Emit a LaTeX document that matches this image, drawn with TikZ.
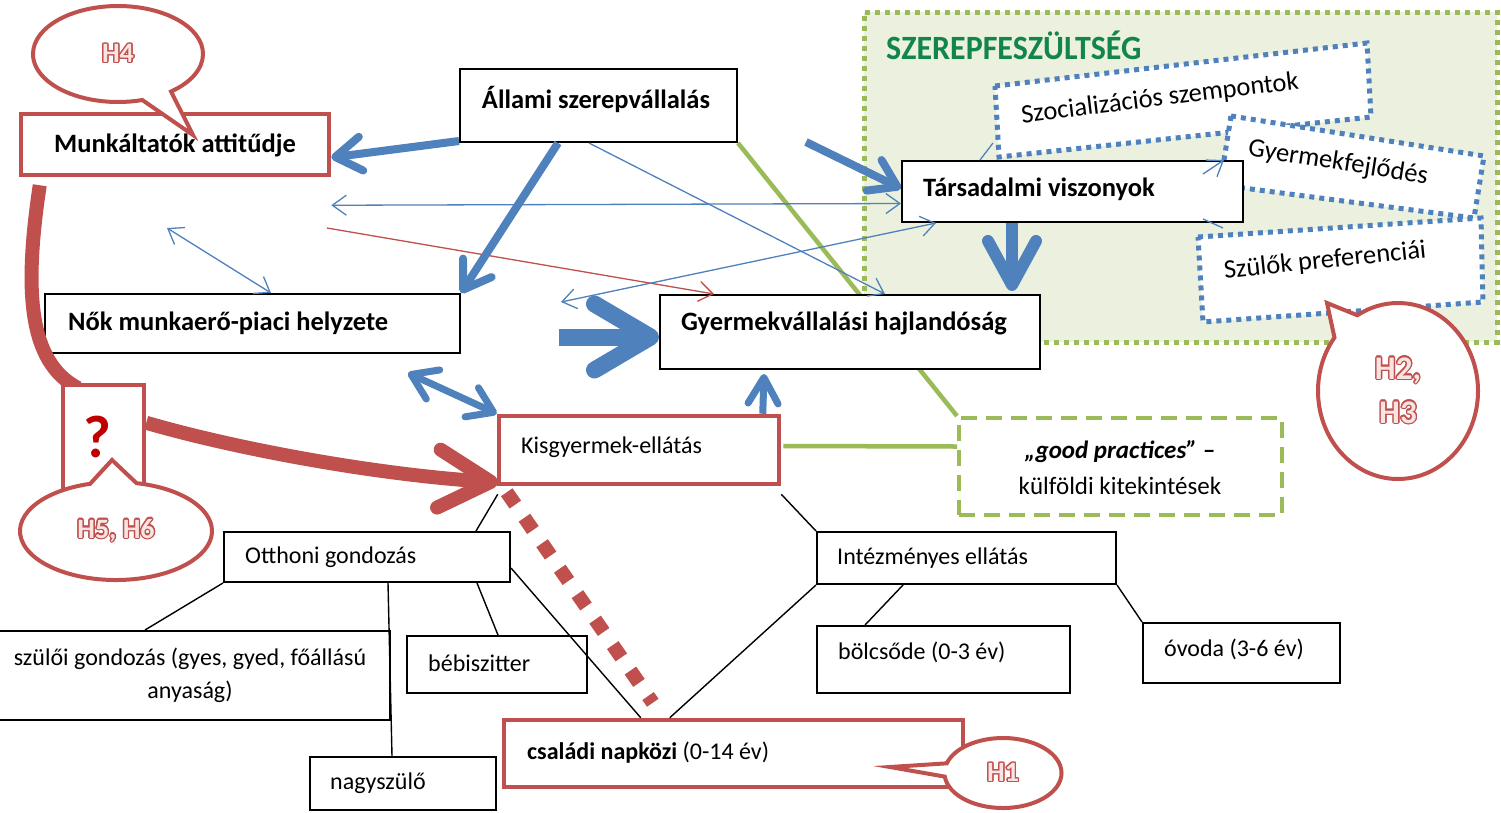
\documentclass[tikz,border=0pt]{standalone}
\usepackage{fontspec}
\setmainfont{Carlito}
\usepackage[copies]{contour}
\usetikzlibrary{arrows.meta,shapes.geometric,shapes.callouts,fit}
\definecolor{ablue}{HTML}{4F81BD}
\definecolor{ared}{HTML}{C0504D}
\definecolor{agreen}{HTML}{9BBB59}
\definecolor{afill}{HTML}{EBF1DE}
\definecolor{qred}{HTML}{C00000}
\definecolor{tgreen}{HTML}{12854A}
\definecolor{hpink}{HTML}{F7E4E3}
\contourlength{1.3pt}
\newcommand\hlab[1]{\contour{ared}{\textcolor{hpink}{#1}}}
\tikzset{
  bx/.style={draw=black, line width=2pt, fill=white, inner sep=0pt},
  rbx/.style={draw=ared, line width=4.5pt, fill=white, inner sep=0pt},
  tx/.style={font=\fontsize{24}{33}\selectfont, inner sep=0pt},
  btx/.style={font=\fontsize{26.5}{30}\selectfont\bfseries, inner sep=0pt},
  rtx/.style={font=\fontsize{26.5}{30}\selectfont, inner sep=0pt},
  bubble/.style={ellipse callout, draw=ared, line width=4pt, fill=white, inner sep=0pt,
     font=\fontsize{28}{40}\selectfont\bfseries, align=center},
  dotbox/.style={draw=ablue, line width=5pt, dash pattern=on 5pt off 5pt, fill=white},
  tree/.style={draw=black, line width=1.4pt},
  gline/.style={draw=agreen, line width=4.5pt},
  thinarr/.style={draw=ablue, line width=1.3pt, -{Straight Barb[length=14pt,width=20pt]}},
  thinred/.style={draw=ared, line width=1.3pt, -{Straight Barb[length=14pt,width=20pt]}},
  thinbi/.style={draw=ablue, line width=1.3pt, {Straight Barb[length=14pt,width=20pt]}-{Straight Barb[length=14pt,width=20pt]}},
  fat/.style={draw=ablue, line width=8pt, -{Straight Barb[length=26pt,width=34pt,round]}},
  fatbi/.style={draw=ablue, line width=7pt, {Straight Barb[length=24pt,width=32pt,round]}-{Straight Barb[length=24pt,width=32pt,round]}},
}
\begin{document}
\begin{tikzpicture}[x=1pt,y=-1pt]
\useasboundingbox (0,0) rectangle (1501,812);
\fill[white] (0,0) rectangle (1501,812);

% role strain region
\node[draw=agreen, fill=afill, line width=5pt, dash pattern=on 5pt off 5pt, inner sep=0pt,
      fit={(864,12) (1497,342)}] (szerep) {};
\node[font=\fontsize{34}{40}\selectfont\bfseries, text=tgreen, xscale=0.94, anchor=west, inner sep=0pt]
      (title) at (886,45) {SZEREPFESZÜLTSÉG};

% dotted blue boxes
\draw[dotbox] (995,86) -- (1367,43) -- (1371,117) -- (999,157) -- cycle;
\node[rtx, rotate=7] (szoct) at (1160,99) {Szocializációs szempontok};
\draw[dotbox] (1231,116) -- (1484,156) -- (1474,218) -- (1220,185) -- cycle;
\node[rtx, rotate=-9] (gyft) at (1338,163) {Gyermekfejlődés};
\draw[dotbox] (1198,237) -- (1481,218) -- (1483,302) -- (1203,322) -- cycle;
\node[rtx, rotate=6] (szpt) at (1325,261) {Szülők preferenciái};

% boxes
\node[rbx, fit={(21,114) (329,175)}] (munk) {};
\node[bx, fit={(460,69) (737,142)}] (allami) {};
\node[draw=agreen, line width=4pt, dash pattern=on 16pt off 9pt, fill=white, inner sep=0pt,
      fit={(959,418) (1282,515)}] (good) {};
% green connectors (behind the boxes they cross)
\draw[gline] (allami.south east) -- (good.north west);
\node[bx, fit={(45,294) (460,353)}] (nok) {};
\node[bx, fit={(660,295) (1040,369)}] (gyerm) {};
\node[bx, fit={(902,161) (1243,222)}] (tars) {};
\node[rbx, fit={(499,416) (779,484)}] (kisgy) {};
\draw[gline] ([shift={(2,-4)}]kisgy.east) -- ([shift={(0,-20)}]good.west);
\node[bx, fit={(224,532) (510,582)}] (otth) {};
\node[bx, fit={(-3,631) (390,720)}] (szuloi) {};
\node[bx, fit={(407,636) (587,693)}] (bebi) {};
\node[bx, fit={(310,757) (496,810)}] (nagy) {};
\node[rbx, fit={(504,720) (963,787)}] (csal) {};
\node[bx, fit={(817,532) (1116,584)}] (intez) {};
\node[bx, fit={(817,626) (1070,693)}] (bolcs) {};
\node[bx, fit={(1143,623) (1340,683)}] (ovoda) {};

% texts
\node[btx] (munkt) at (175,145) {Munkáltatók attitűdje};
\node[btx] (allamit) at (596,99) {Állami szerepvállalás};
\node[btx, anchor=west] (nokt) at (68,323) {Nők munkaerő-piaci helyzete};
\node[btx, anchor=west] (gyermt) at (681,323) {Gyermekvállalási hajlandóság};
\node[btx, anchor=west] (tarst) at (923,189) {Társadalmi viszonyok};
\node[tx, anchor=west] (kisgyt) at (521,447) {Kisgyermek-ellátás};
\node[tx, align=center, font=\fontsize{25}{36}\selectfont] (goodt) at (1120,468) {\textbf{\textit{„good practices” –}}\\külföldi kitekintések};
\node[tx, anchor=west] (ottht) at (245,557) {Otthoni gondozás};
\node[tx, align=center] (szuloit) at (190,675) {szülői gondozás (gyes, gyed, főállású\\anyaság)};
\node[tx, anchor=west] (bebit) at (428,663) {bébiszitter};
\node[tx, anchor=west] (nagyt) at (330,783) {nagyszülő};
\node[tx, anchor=west] (csalt) at (527,753) {\textbf{családi napközi} (0-14 év)};
\node[tx, anchor=west] (intezt) at (837,558) {Intézményes ellátás};
\node[tx, anchor=west] (bolcst) at (838,652) {bölcsőde (0-3 év)};
\node[tx, anchor=west] (ovodat) at (1164,649) {óvoda (3-6 év)};

% tree lines
\draw[tree] ([shift={(1,8)}]kisgy.south west) -- ([shift={(253,0)}]otth.north west);
\draw[tree] ([shift={(0,8)}]kisgy.south east) -- (intez.north west);
\draw[tree] (otth.south west) -- ([shift={(149,0)}]szuloi.north west);
\draw[tree] ([shift={(165,0)}]otth.south west) -- ([shift={(83,0)}]nagy.north west);
\draw[tree] ([shift={(254,0)}]otth.south west) -- ([shift={(92,0)}]bebi.north west);
\draw[tree] ([shift={(0,-15)}]otth.south east) -- ([shift={(139,0)}]csal.north west);
\draw[tree] (intez.south west) -- ([shift={(168,0)}]csal.north west);
\draw[tree] ([shift={(87,0)}]intez.south west) -- ([shift={(49,0)}]bolcs.north west);
\draw[tree] (intez.south east) -- (ovoda.north west);

% free coordinates
\coordinate (p1) at (167,228);
\coordinate (p2) at (327,228);
\coordinate (p3) at (561,302);
\coordinate (p4) at (806,142);
\coordinate (p5) at (559,337);
\coordinate (s1) at (993,143);
\coordinate (s2) at (1224,160);
\coordinate (s3) at (1223,228);

% thin arrows
\draw[thinarr] ([shift={(130,0)}]allami.south west) -- ([shift={(226,0)}]gyerm.north west);
\draw[thinbi] ([shift={(0,28)}]munk.south east) -- ([shift={(0,12)}]tars.west);
\draw[thinbi] (p1) -- ([shift={(227,0)}]nok.north west);
\draw[thinred] (p2) -- ([shift={(55,0)}]gyerm.north west);
\draw[thinbi] (p3) -- ([shift={(35,0)}]tars.south west);
\draw[ablue, line width=1.3pt] ([shift={(79,0)}]tars.north west) -- (s1);
\draw[thinarr] ([shift={(-41,14)}]tars.north east) -- (s2);
\draw[ablue, line width=1.3pt] ([shift={(-41,-4)}]tars.south east) -- (s3);

% fat arrows
\draw[fat] ([shift={(0,-2)}]allami.south west) -- ([shift={(0,13)}]munk.east);
\draw[fat] ([shift={(99,0)}]allami.south west) -- (nok.north east);
\draw[fat] (p4) -- ([shift={(0,-3)}]tars.west);
\draw[draw=ablue, line width=17pt, -{Straight Barb[length=56pt,width=66pt,round]}] (p5) -- ([shift={(0,5)}]gyerm.west);
\draw[draw=ablue, line width=12pt, -{Straight Barb[length=44pt,width=48pt,round]}] ([shift={(111,0)}]tars.south west) -- ([shift={(353,-3)}]gyerm.north west);
\draw[draw=ablue, line width=7pt, -{Straight Barb[length=26pt,width=30pt,round]}] ([shift={(266,0)}]kisgy.north west) -- ([shift={(105,4)}]gyerm.south west);
\draw[fatbi] ([shift={(364,19)}]nok.south west) -- (kisgy.north west);

% red curve and question box
\draw[ared, line width=14pt] ([shift={(21,8)}]munk.south west) .. controls (24,290) and (28,362) .. (78,388);
\node[rbx, fit={(63,385) (144,490)}] (kerdes) {};
\node[font=\fontsize{60}{66}\selectfont\bfseries, text=qred, inner sep=0pt] (kerdest) at (97,437) {?};
\draw[ared, line width=14pt, -{Straight Barb[length=52pt,width=58pt,round]}]
   ([shift={(0,40)}]kerdes.north east) .. controls (240,450) and (380,475) .. ([shift={(1,-4)}]kisgy.south west);
\draw[ared, line width=14pt, dash pattern=on 15pt off 16pt] ([shift={(10,6)}]kisgy.south west) -- ([shift={(151,-15)}]csal.north west);

% speech bubbles
\node[bubble, minimum width=170pt, minimum height=96pt, callout absolute pointer={(193,135)}, callout pointer arc=22] (h4) at (118,54) {\hlab{H4}};
\node[bubble, minimum width=192pt, minimum height=98pt, callout absolute pointer={(112,460)}, callout pointer arc=28] (h56) at (116,531) {\hlab{H5, H6}};
\node[bubble, minimum width=160pt, minimum height=176pt, callout absolute pointer={(1327,303)}, callout pointer arc=22, font=\fontsize{33}{44}\selectfont\bfseries] (h23) at (1398,391) {\hlab{H2,}\\\hlab{H3}};
\node[bubble, minimum width=117pt, minimum height=70pt, callout absolute pointer={(890,767)}, callout pointer arc=22] (h1) at (1003,773) {\hlab{H1}};
\end{tikzpicture}
\end{document}
